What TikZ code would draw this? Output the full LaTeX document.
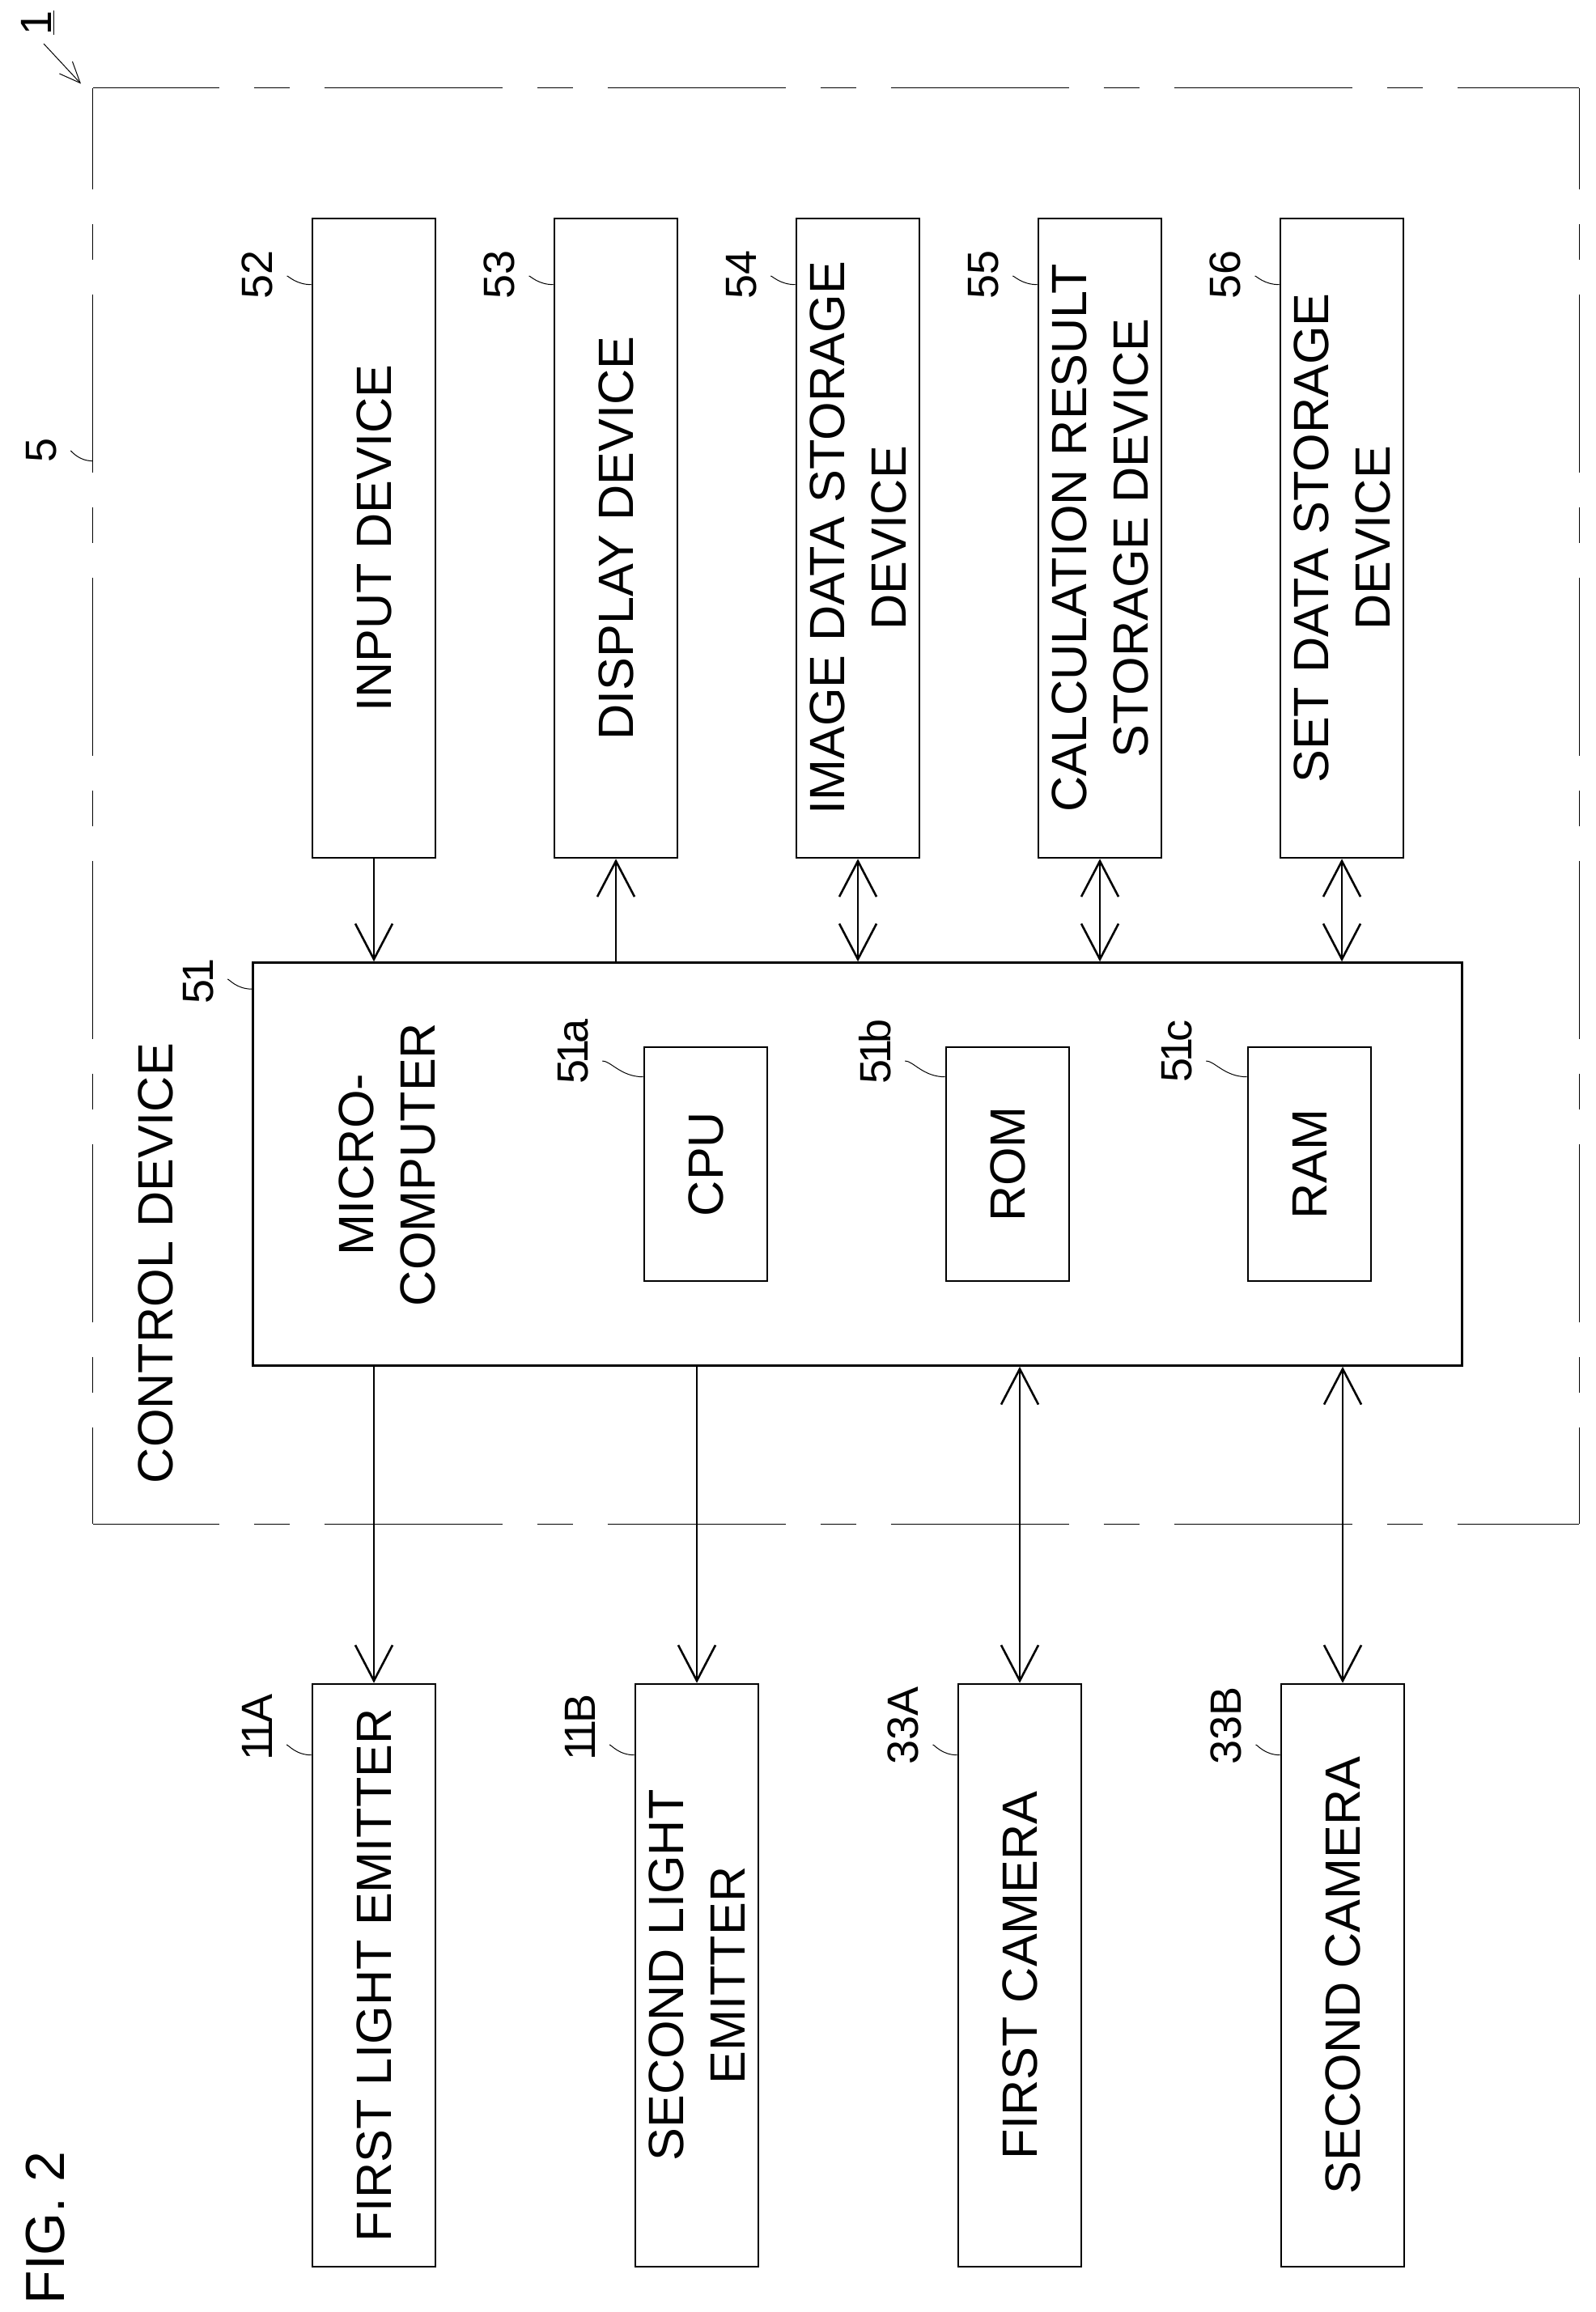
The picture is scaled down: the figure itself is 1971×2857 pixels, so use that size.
\documentclass[tikz,border=0pt]{standalone}
\usepackage{fontspec}
\setmainfont{Liberation Sans}
\usetikzlibrary{positioning,calc}
\usetikzlibrary{arrows.meta}
\newcommand{\thinone}{\kern-2.5pt 1\kern-2.5pt\relax}
\tikzset{
  devbox/.style={draw, line width=1.3pt, rotate=90, inner sep=0pt, align=center,
    font=\fontsize{30.6}{38}\selectfont},
  midbox/.style={devbox, minimum width=395pt, minimum height=76pt},
  lowbox/.style={devbox, minimum width=360pt, minimum height=76pt},
  chipbox/.style={devbox, minimum width=144.5pt, minimum height=76pt},
  plaintext/.style={rotate=90, inner sep=0pt, align=center,
    font=\fontsize{30.6}{38}\selectfont},
  refnum/.style={rotate=90, inner sep=0pt, font=\fontsize{27}{27}\selectfont},
  lead/.style={line width=0.5pt, shorten >=8.5pt, out=180, in=0},
  signal/.style={line width=1.3pt, >={Straight Barb[length=22pt,width=23pt]}},
  frameline/.style={line width=0.8pt, dash pattern=on 110pt off 21.5pt on 22pt off 21.5pt}
}
\begin{document}
\begin{tikzpicture}[x=0.5pt, y=-0.5pt, node distance=149.5pt, on grid]
  \useasboundingbox (0,0) rectangle (1971,2857);
  % control device frame
  \node (ctl) [minimum width=918pt, minimum height=887pt, inner sep=0pt] at (1033,996) {};
  \draw[frameline, dash phase=32pt] (ctl.north west) -- (ctl.north east);
  \draw[frameline, dash phase=47.5pt] (ctl.north west) -- (ctl.south west);
  \draw[frameline, dash phase=47.5pt] (ctl.north east) -- (ctl.south east);
  \draw[frameline, dash phase=32pt] (ctl.south west) -- (ctl.south east);
  \node[plaintext] (ctl_t) at (192,1561) {CONTROL DEVICE};
  \node[plaintext, font=\fontsize{34}{34}\selectfont] (fig) at (56,2753) {FIG. 2};
  % upper row
  \node[midbox] (d_52) at (462,665) {INPUT DEVICE};
  \node[midbox] (d_53) [right=of d_52] {DISPLAY DEVICE};
  \node[midbox] (d_54) [right=of d_53] {IMAGE DATA STORAGE\\DEVICE};
  \node[midbox] (d_55) [right=of d_54] {CALCULATION RESULT\\STORAGE DEVICE};
  \node[midbox] (d_56) [right=of d_55] {SET DATA STORAGE\\DEVICE};
  % microcomputer
  \node (mc) [draw, line width=1.3pt, minimum width=747pt, minimum height=249pt, inner sep=0pt] at (1059.5,1438.5) {};
  \node[plaintext] (mc_t) at (478,1439) {MICRO-\\COMPUTER};
  \node[chipbox] (cpu) at (872,1438.5) {CPU};
  \node[chipbox] (rom) [right=186.5pt of cpu] {ROM};
  \node[chipbox] (ram) [right=186.5pt of rom] {RAM};
  % lower row
  \node[lowbox] (e_11A) at (462,2441) {FIRST LIGHT EMITTER};
  \node[lowbox] (e_11B) [right=199.5pt of e_11A] {SECOND LIGHT\\EMITTER};
  \node[lowbox] (e_33A) [right=199.5pt of e_11B] {FIRST CAMERA};
  \node[lowbox] (e_33B) [right=199.5pt of e_33A] {SECOND CAMERA};
  % reference numerals
  \node[refnum] (r_1) at (47,28) {\underline{1}};
  \node[refnum] (r_5) at (51,556) {5};
  \node[refnum] (r_51) at (245,1215) {5\thinone};
  \node[refnum] (r_51a) at (708,1299) {5\thinone a};
  \node[refnum] (r_51b) [right=186.5pt of r_51a] {5\thinone b};
  \node[refnum] (r_51c) [right=186.5pt of r_51b] {5\thinone c};
  \node[refnum] (r_52) at (318,339) {52};
  \node[refnum] (r_53) [right=of r_52] {53};
  \node[refnum] (r_54) [right=of r_53] {54};
  \node[refnum] (r_55) [right=of r_54] {55};
  \node[refnum] (r_56) [right=of r_55] {56};
  \node[refnum] (r_11A) at (318,2132) {\thinone\thinone A};
  \node[refnum] (r_11B) [right=199.5pt of r_11A] {\thinone\thinone B};
  \node[refnum] (r_33A) [right=199.5pt of r_11B] {33A};
  \node[refnum] (r_33B) [right=199.5pt of r_33A] {33B};
  % signal lines
  \path[signal]
    (d_52.west) edge[->] (d_52.west |- mc.north)
    (d_53.west |- mc.north) edge[->] (d_53.west)
    (d_54.west) edge[<->] (d_54.west |- mc.north)
    (d_55.west) edge[<->] (d_55.west |- mc.north)
    (d_56.west) edge[<->] (d_56.west |- mc.north)
    (e_11A.east |- mc.south) edge[->] (e_11A.east)
    (e_11B.east |- mc.south) edge[->] (e_11B.east)
    (e_33A.east |- mc.south) edge[<->] (e_33A.east)
    (e_33B.east |- mc.south) edge[<->] (e_33B.east);
  % leader lines
  \coordinate (s_1) at (54,54);
  \coordinate (c_1) at (100,103.5);
  \draw[line width=0.5pt, -{Straight Barb[length=13pt,width=11pt]}] (s_1) -- (c_1);
  \draw[lead] ($(ctl.north west)+(0,461)$) to ($(r_5.south)+(0,1)$);
  \draw[lead] ($(mc.north west)+(0,34)$) to ($(r_51.south)+(0,-5)$);
  \draw[lead] ($(cpu.north east)+(0,38)$) to ($(r_51a.south)+(0,12)$);
  \draw[lead] ($(rom.north east)+(0,38)$) to ($(r_51b.south)+(0,12)$);
  \draw[lead] ($(ram.north east)+(0,38)$) to ($(r_51c.south)+(0,12)$);
  \draw[lead] ($(d_52.north east)+(0,83)$) to ($(r_52.south)+(0,2)$);
  \draw[lead] ($(d_53.north east)+(0,83)$) to ($(r_53.south)+(0,2)$);
  \draw[lead] ($(d_54.north east)+(0,83)$) to ($(r_54.south)+(0,2)$);
  \draw[lead] ($(d_55.north east)+(0,83)$) to ($(r_55.south)+(0,2)$);
  \draw[lead] ($(d_56.north east)+(0,83)$) to ($(r_56.south)+(0,2)$);
  \draw[lead] ($(e_11A.north east)+(0,89)$) to ($(r_11A.south)+(0,24)$);
  \draw[lead] ($(e_11B.north east)+(0,89)$) to ($(r_11B.south)+(0,24)$);
  \draw[lead] ($(e_33A.north east)+(0,89)$) to ($(r_33A.south)+(0,24)$);
  \draw[lead] ($(e_33B.north east)+(0,89)$) to ($(r_33B.south)+(0,24)$);
\end{tikzpicture}
\end{document}
